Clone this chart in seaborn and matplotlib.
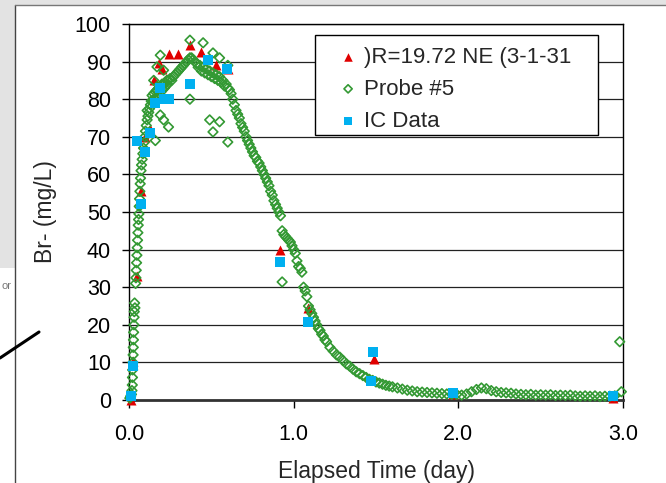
import numpy as np
import pandas as pd
import seaborn as sns
import matplotlib
matplotlib.use("Agg")
import matplotlib.pyplot as plt
from matplotlib.patches import Rectangle
from matplotlib.lines import Line2D

# ---------------- data ----------------
# red triangles: )R=19.72 NE (3-1-31
tri_t = [0.01, 0.024, 0.05, 0.07, 0.10, 0.13, 0.15, 0.18, 0.20, 0.24, 0.30, 0.37, 0.44, 0.53, 0.60,
         0.92, 1.09, 1.49, 1.97, 2.94]
tri_br = [0, 10.5, 33, 55.5, 70, 72, 85, 89.5, 88, 92, 92, 94.5, 92.5, 89, 88,
          40, 24.4, 11, 1.5, 0.5]

# blue squares: IC Data
ic_t = [0.01, 0.024, 0.05, 0.073, 0.10, 0.13, 0.16, 0.19, 0.21, 0.24, 0.37, 0.48, 0.595,
        0.92, 1.09, 1.47, 1.48, 1.97, 2.94]
ic_br = [1, 9, 69, 52, 66, 71, 79, 83, 80, 80, 84, 90.5, 88,
         36.8, 20.7, 5, 12.8, 1.8, 1]

# green diamonds: Probe #5 (logger record, split in pieces)
rise_t = [0.005, 0.01, 0.015, 0.018, 0.02, 0.021, 0.022, 0.024, 0.025, 0.026, 0.027, 0.028, 0.03,
          0.031, 0.032, 0.034, 0.036, 0.04, 0.042, 0.044, 0.046, 0.048, 0.05, 0.052, 0.054, 0.056,
          0.058, 0.06, 0.062, 0.064, 0.066, 0.068, 0.07, 0.073, 0.076, 0.08, 0.084, 0.088, 0.092,
          0.096, 0.1, 0.105, 0.11, 0.115, 0.12, 0.125, 0.13]
rise_br = [0.5, 1, 1.5, 2.5, 4, 6, 8, 10, 12, 14, 16, 18, 20,
           22, 23.5, 25.8, 24.5, 31, 32.5, 34.5, 36.5, 38.5, 40.5, 42.5, 44.5, 46.5,
           48, 49.5, 51.5, 53.5, 55.5, 57.5, 59, 61, 62.5, 64, 65.5, 67, 68.5,
           70, 71.5, 73, 74.5, 75.5, 76.5, 77.5, 78.5]

peak_t = [0.135, 0.14, 0.145, 0.15, 0.155, 0.16, 0.165, 0.17, 0.175, 0.18, 0.185, 0.19, 0.195,
          0.2, 0.205, 0.21, 0.215, 0.22, 0.225, 0.23, 0.235, 0.24,
          0.25, 0.26, 0.27, 0.28, 0.29, 0.3, 0.31, 0.32, 0.33, 0.34, 0.35, 0.36, 0.37, 0.38,
          0.39, 0.4, 0.41, 0.42, 0.43, 0.44, 0.45, 0.46, 0.47, 0.48, 0.49, 0.5, 0.51, 0.52,
          0.53, 0.54, 0.55, 0.56, 0.57, 0.58, 0.59, 0.6]
peak_br = [79.5, 81, 79.5, 81.5, 80, 82, 80.5, 82.5, 81, 83, 81.5, 83.5, 82,
           84, 82.5, 84, 83, 84.5, 83.5, 85, 84, 85,
           85.5, 85, 86, 86.5, 87, 87.5, 88, 88.5, 89, 89.5, 90, 90.5, 91, 91,
           90.5, 90, 89.5, 88.5, 89, 87.5, 88.5, 87, 88, 86.5, 87.5, 86, 87, 85.5,
           86.5, 85, 86, 84.5, 85, 83.5, 84, 83]

fall_t = [0.61, 0.62, 0.63, 0.64, 0.65, 0.66, 0.67, 0.68, 0.69, 0.7, 0.71, 0.72, 0.73, 0.74, 0.75,
          0.76, 0.77, 0.78, 0.79, 0.8, 0.81, 0.82, 0.83, 0.84, 0.85, 0.86, 0.87, 0.88, 0.89, 0.9,
          0.91, 0.92, 0.93, 0.94, 0.95, 0.96, 0.97, 0.98, 0.99, 1.0, 1.01, 1.02, 1.03, 1.04, 1.05,
          1.06, 1.07, 1.08, 1.09, 1.1, 1.11, 1.12, 1.13, 1.14, 1.15, 1.16, 1.17, 1.18, 1.19, 1.2]
fall_br = [82.5, 81.5, 80, 78.5, 77, 76, 75, 73.5, 72.5, 71.5, 70, 69, 68, 67, 66,
           65, 64.5, 63.5, 63, 62, 61, 60, 59, 58, 57, 55.5, 54.5, 53, 52, 51,
           50, 49, 45, 44, 43.5, 43, 42.5, 42, 41, 40, 39, 37, 35.5, 35, 34,
           30, 29, 27.5, 25, 24, 23, 22, 21, 20, 19, 18.5, 17.5, 17, 16, 15.5]

tail_t = [1.22, 1.24, 1.26, 1.28, 1.3, 1.32, 1.34, 1.36, 1.38, 1.4, 1.42, 1.44, 1.46, 1.48, 1.5,
          1.52, 1.54, 1.56, 1.58, 1.6,
          1.63, 1.66, 1.69, 1.72, 1.75, 1.78, 1.81, 1.84, 1.87, 1.9, 1.93, 1.96, 1.99, 2.02,
          2.05, 2.08, 2.11, 2.14, 2.17, 2.2, 2.23, 2.26, 2.29, 2.32,
          2.35, 2.38, 2.41, 2.44, 2.47, 2.5, 2.53, 2.56, 2.59, 2.62, 2.65, 2.68, 2.71, 2.74,
          2.77, 2.8, 2.83, 2.86, 2.89, 2.92, 2.95]
tail_br = [14, 13, 12, 11.4, 10.5, 9.6, 9, 8.2, 7.5, 7, 6.5, 6, 5.5, 5.2, 4.8,
           4.5, 4.2, 3.9, 3.7, 3.5,
           3.2, 2.9, 2.6, 2.4, 2.2, 2.1, 2.0, 1.9, 1.8, 1.7, 1.6, 1.5, 1.5, 1.3,
           1.6, 2.2, 2.8, 3.2, 3.0, 2.5, 2.2, 2.0, 1.9, 1.8,
           1.6, 1.5, 1.4, 1.5, 1.3, 1.4, 1.3, 1.4, 1.2, 1.3, 1.2, 1.3, 1.1, 1.0,
           1.1, 1.0, 1.1, 0.9, 1.0, 1.0, 1.1]

stray_t = [0.15, 0.17, 0.19, 0.21, 0.19, 0.21, 0.24, 0.16, 0.11, 0.37, 0.45, 0.51, 0.55, 0.6,
           0.37, 0.49, 0.55, 0.51, 0.6, 0.93, 2.98, 2.99]
stray_br = [85, 88.6, 91.7, 87.7, 75.8, 74.5, 72.6, 69, 77, 95.7, 95, 92.3, 91, 89,
            80, 74.5, 74, 71.3, 68.6, 31.4, 15.5, 2.2]

x_ticks = [0.0, 1.0, 2.0, 3.0]
y_ticks = [0, 10, 20, 30, 40, 50, 60, 70, 80, 90, 100]

red = "#E00000"
green = "#339933"
blue = "#00B0F0"

probe = pd.DataFrame({
    "t": rise_t + peak_t + fall_t + tail_t + stray_t,
    "br": rise_br + peak_br + fall_br + tail_br + stray_br,
})
tri = pd.DataFrame({"t": tri_t, "br": tri_br})
ic = pd.DataFrame({"t": ic_t, "br": ic_br})

sns.set_style("white")
plt.rcParams["font.family"] = ["Liberation Sans", "DejaVu Sans"]

fig = plt.figure(figsize=(6.66, 4.83), dpi=100)
ax = fig.add_axes([129 / 666, 83 / 483, 494 / 666, 376 / 483])

sns.scatterplot(data=tri, x="t", y="br", ax=ax, marker="^", s=52, color=red,
                linewidth=0, label=")R=19.72 NE (3-1-31", clip_on=False, zorder=3)
sns.scatterplot(data=probe, x="t", y="br", ax=ax, marker="D", s=24, facecolor="none",
                edgecolor=green, linewidth=1.2, label="Probe #5", clip_on=False, zorder=3)
sns.scatterplot(data=ic, x="t", y="br", ax=ax, marker="s", s=46, color=blue,
                linewidth=0, label="IC Data", clip_on=False, zorder=3)

ax.set_xlim(0, 3)
ax.set_ylim(0, 100)
ax.set_xticks(x_ticks)
ax.set_xticklabels([f"{v:.1f}" for v in x_ticks])
ax.set_yticks(y_ticks)
ax.yaxis.grid(True, color="#222222", linewidth=0.9)
ax.xaxis.grid(False)
ax.set_axisbelow(True)

for side in ["left", "top", "right"]:
    ax.spines[side].set_color("black")
    ax.spines[side].set_linewidth(1)
ax.spines["bottom"].set_color("#333333")
ax.spines["bottom"].set_linewidth(2)

ax.tick_params(axis="y", direction="out", length=5, width=1, pad=8, labelsize=15.5,
               left=True, colors="black")
ax.tick_params(axis="x", direction="out", length=6, width=1, pad=11, labelsize=15.5,
               bottom=True, colors="black")

ax.set_xlabel("Elapsed Time (day)", fontsize=16.5)
ax.set_ylabel("Br- (mg/L)", fontsize=16.5)
ax.xaxis.set_label_coords(0.5, -0.16)
ax.yaxis.set_label_coords(-0.145, 0.5)

# legend box drawn as its own patch so it can be padded like the original
ax.add_patch(Rectangle((0.3765, 0.7048), 0.573, 0.266, transform=ax.transAxes,
                       facecolor="white", edgecolor="black", linewidth=1, zorder=4,
                       clip_on=False))
leg = ax.legend(loc="upper left", bbox_to_anchor=(0.421, 0.94), frameon=False,
                borderpad=0, borderaxespad=0, handlelength=1.0, handletextpad=0.2,
                labelspacing=0.5, fontsize=16, markerscale=0.85)
leg.set_zorder(5)

# screenshot surroundings
fig.add_artist(Rectangle((0, 215 / 483), 15 / 666, 268 / 483, transform=fig.transFigure,
                         facecolor="#e3e3e3", edgecolor="none", zorder=0))
fig.add_artist(Rectangle((0, 478 / 483), 1, 5 / 483, transform=fig.transFigure,
                         facecolor="#e3e3e3", edgecolor="none", zorder=0))
fig.add_artist(Line2D([15 / 666, 15 / 666], [0, 478 / 483], transform=fig.transFigure,
                      color="#444444", linewidth=1))
fig.add_artist(Line2D([15 / 666, 1], [478 / 483, 478 / 483], transform=fig.transFigure,
                      color="#777777", linewidth=1))
fig.add_artist(Line2D([0, 39 / 666], [125 / 483, 151 / 483], transform=fig.transFigure,
                      color="black", linewidth=2.2))
fig.text(1 / 666, 194 / 483, "or", fontsize=8, color="#777777")

fig.savefig("out.png", dpi=100)
